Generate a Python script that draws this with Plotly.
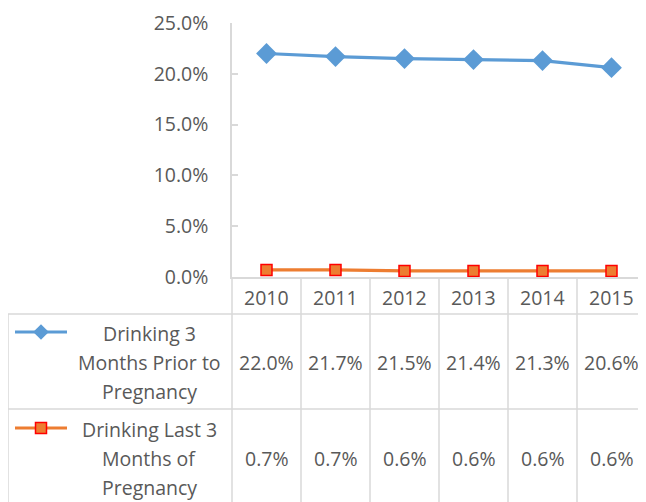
import plotly.graph_objects as go

years = [2010, 2011, 2012, 2013, 2014, 2015]
prior_3_months = [22.0, 21.7, 21.5, 21.4, 21.3, 20.6]
last_3_months = [0.7, 0.7, 0.6, 0.6, 0.6, 0.6]
series_names = [
    ["Drinking 3", "Months Prior to", "Pregnancy"],
    ["Drinking Last 3", "Months of", "Pregnancy"],
]
y_ticks = [0, 5, 10, 15, 20, 25]

W, H = 646, 502
OFF = 8  # page body margin
TEXT = "#595959"
GRID = "#d9d9d9"
FONT = "Open Sans"
FS = 19.5
BLUE = "#5B9BD5"
ORANGE = "#ED7D31"


def px(x):
    return (x - OFF) / W


def py(y):
    return 1 - (y - OFF) / H


fig = go.Figure()

blue_marker = dict(symbol="diamond", size=16, color=BLUE)
orange_marker = dict(symbol="square", size=11, color=ORANGE, line=dict(color="#FF0000", width=1.5))

fig.add_trace(go.Scatter(
    x=years, y=[v / 100 for v in prior_3_months], mode="lines+markers",
    line=dict(color=BLUE, width=3.2), marker=blue_marker,
    showlegend=False, cliponaxis=False,
))
fig.add_trace(go.Scatter(
    x=years, y=[v / 100 for v in last_3_months], mode="lines+markers",
    line=dict(color=ORANGE, width=3.2), marker=orange_marker,
    showlegend=False, cliponaxis=False,
))

# legend keys inside the data table (hidden full-page axis)
keys = [
    (332, BLUE, dict(blue_marker, size=12)),
    (428, ORANGE, orange_marker),
]
for yk, col, mk in keys:
    fig.add_trace(go.Scatter(
        x=[px(15), px(67)], y=[py(yk), py(yk)], mode="lines",
        line=dict(color=col, width=3.2), xaxis="x2", yaxis="y2",
        showlegend=False, hoverinfo="skip", cliponaxis=False,
    ))
    fig.add_trace(go.Scatter(
        x=[px(41)], y=[py(yk)], mode="markers", marker=mk, xaxis="x2", yaxis="y2",
        showlegend=False, hoverinfo="skip", cliponaxis=False,
    ))

shapes = []
line = dict(color=GRID, width=1.5)
# table grid
for yy in [314, 409]:
    shapes.append(dict(type="line", xref="paper", yref="paper", x0=px(8), x1=px(646),
                       y0=py(yy), y1=py(yy), line=line, layer="below"))
shapes.append(dict(type="line", xref="paper", yref="paper", x0=px(8), x1=px(8),
                   y0=py(314), y1=0, line=line, layer="below"))
shapes.append(dict(type="line", xref="paper", yref="paper", x0=px(232), x1=px(232),
                   y0=py(277), y1=0, line=line, layer="below"))
for i in range(1, len(years) + 1):
    xb = years[0] - 0.5 + i
    shapes.append(dict(type="line", xref="x", yref="paper", x0=xb, x1=xb,
                       y0=py(277), y1=0, line=line, layer="below"))

font = dict(size=FS, color=TEXT, family=FONT)
annotations = []
for yv in years:
    annotations.append(dict(x=yv, xref="x", y=py(297), yref="paper", text=str(yv),
                            xanchor="center", yanchor="middle", showarrow=False, font=font))
for row_mid, vals in zip([362, 458], [prior_3_months, last_3_months]):
    for yv, v in zip(years, vals):
        annotations.append(dict(x=yv, xref="x", y=py(row_mid), yref="paper", text=f"{v:.1f}%",
                                xanchor="center", yanchor="middle", showarrow=False, font=font))
for row_mid, lines in zip([362, 458], series_names):
    for k, t in enumerate(lines):
        annotations.append(dict(x=px(149), xref="paper", y=py(row_mid + (k - 1) * 29), yref="paper",
                                text=t, xanchor="center", yanchor="middle", showarrow=False,
                                font=font))

fig.update_layout(
    template="none",
    width=W, height=H,
    margin=dict(l=0, r=0, t=0, b=0, pad=0),
    paper_bgcolor="white", plot_bgcolor="rgba(0,0,0,0)",
    font=dict(family=FONT, color=TEXT, size=FS),
    xaxis=dict(domain=[px(232), px(646)], range=[years[0] - 0.5, years[-1] + 0.5],
               showgrid=False, zeroline=False, showticklabels=False, ticks="",
               showline=True, linecolor=GRID, linewidth=1.5, automargin=False),
    yaxis=dict(domain=[py(277), py(23)], range=[0, 0.25], tickvals=[t / 100 for t in y_ticks],
               tickformat=".1%", showgrid=False, zeroline=False,
               showline=True, linecolor=GRID, linewidth=1.5,
               ticks="inside", ticklen=6, tickcolor=GRID, tickwidth=1.5,
               ticklabelstandoff=18, tickfont=font, automargin=False),
    xaxis2=dict(domain=[0, 1], range=[0, 1], visible=False, anchor="y2", automargin=False),
    yaxis2=dict(domain=[0, 1], range=[0, 1], visible=False, anchor="x2", automargin=False),
    shapes=shapes,
    annotations=annotations,
)

fig.write_html("out.html")
